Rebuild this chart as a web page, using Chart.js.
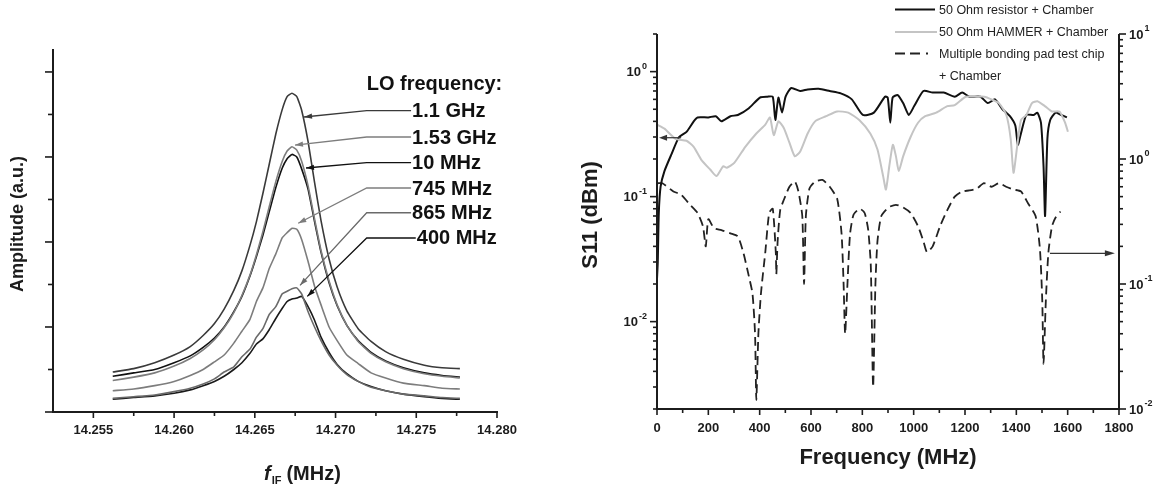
<!DOCTYPE html>
<html>
<head>
<meta charset="utf-8">
<script src="https://cdn.jsdelivr.net/npm/chart.js@4.4.1/dist/chart.umd.min.js"></script>
<style>
  html, body { margin: 0; padding: 0; background: #fff; }
  #wrap { position: relative; width: 1156px; height: 495px; }
  canvas { position: absolute; top: 0; }
  #ifChart { left: 0; }
  #s11Chart { left: 578px; }
</style>
</head>
<body>
<div id="wrap">
  <canvas id="ifChart" width="578" height="495"></canvas>
  <canvas id="s11Chart" width="578" height="495"></canvas>
</div>
<script>
// ---- left panel: IF spectra for each LO frequency ----
const fIF = [14.2562, 14.2575, 14.2588, 14.2600, 14.2610, 14.2618, 14.2625, 14.2631, 14.2637, 14.2642,
  14.2647, 14.2651, 14.2655, 14.2659, 14.2663, 14.2667, 14.2670, 14.2673, 14.2676, 14.2679,
  14.2683, 14.2687, 14.2691, 14.2696, 14.2701, 14.2707, 14.2714, 14.2722, 14.2731, 14.2742,
  14.2755, 14.2766, 14.2777];
const lo1100 = [0.47, 0.51, 0.58, 0.67, 0.77, 0.90, 1.04, 1.21, 1.43, 1.66, 1.96, 2.24, 2.57, 2.92, 3.27, 3.56, 3.71, 3.75, 3.71, 3.55, 3.18, 2.70, 2.25, 1.80, 1.47, 1.19, 0.98, 0.83, 0.71, 0.62, 0.55, 0.52, 0.51];
const lo1530 = [0.37, 0.41, 0.46, 0.54, 0.63, 0.73, 0.85, 0.99, 1.17, 1.37, 1.61, 1.85, 2.12, 2.42, 2.71, 2.95, 3.07, 3.12, 3.08, 2.95, 2.66, 2.27, 1.90, 1.54, 1.26, 1.02, 0.83, 0.69, 0.59, 0.51, 0.45, 0.42, 0.40];
const lo10 = [0.42, 0.46, 0.50, 0.58, 0.66, 0.76, 0.87, 1.00, 1.18, 1.36, 1.60, 1.83, 2.08, 2.36, 2.64, 2.87, 2.98, 3.03, 3.00, 2.86, 2.62, 2.24, 1.88, 1.52, 1.25, 1.02, 0.84, 0.70, 0.60, 0.52, 0.46, 0.43, 0.41];
const lo745 = [0.25, 0.27, 0.31, 0.36, 0.43, 0.50, 0.59, 0.67, 0.81, 0.95, 1.09, 1.30, 1.46, 1.69, 1.86, 2.05, 2.11, 2.16, 2.15, 2.03, 1.77, 1.48, 1.26, 1.00, 0.84, 0.67, 0.57, 0.46, 0.40, 0.34, 0.31, 0.28, 0.27];
const lo865 = [0.16, 0.18, 0.20, 0.24, 0.28, 0.33, 0.39, 0.47, 0.53, 0.65, 0.74, 0.88, 0.98, 1.15, 1.24, 1.39, 1.42, 1.45, 1.46, 1.39, 1.18, 1.00, 0.84, 0.67, 0.55, 0.44, 0.36, 0.29, 0.25, 0.21, 0.19, 0.17, 0.16];
const lo400 = [0.15, 0.17, 0.19, 0.22, 0.26, 0.31, 0.36, 0.42, 0.50, 0.58, 0.69, 0.80, 0.86, 0.97, 1.10, 1.22, 1.30, 1.33, 1.34, 1.36, 1.24, 1.08, 0.88, 0.70, 0.56, 0.45, 0.36, 0.30, 0.25, 0.21, 0.18, 0.16, 0.15];
const loNames = ['1.1 GHz', '1.53 GHz', '10 MHz', '745 MHz', '865 MHz', '400 MHz'];
const ifTicks = [14.255, 14.260, 14.265, 14.270, 14.275, 14.280];
const ampTicks = [0, 1, 2, 3, 4];

// ---- right panel: S11 vs frequency ----
const resMHz = [0, 3, 7, 14, 29, 57, 86, 115, 143, 158, 200, 229, 251, 286, 315, 358, 401, 430, 451, 461, 473, 487, 501, 523, 558, 587, 630, 673, 716, 759, 802, 845, 888, 899, 909, 918, 938, 959, 981, 1002, 1038, 1074, 1117, 1160, 1189, 1217, 1260, 1289, 1317, 1346, 1375, 1396, 1406, 1418, 1439, 1468, 1482, 1496, 1506, 1512, 1521, 1532, 1553, 1575, 1597];
const resS11 = [0.022, 0.03, 0.074, 0.12, 0.16, 0.22, 0.30, 0.33, 0.40, 0.43, 0.43, 0.44, 0.40, 0.44, 0.45, 0.51, 0.62, 0.63, 0.63, 0.41, 0.62, 0.47, 0.63, 0.74, 0.70, 0.72, 0.73, 0.70, 0.67, 0.60, 0.45, 0.47, 0.63, 0.62, 0.39, 0.62, 0.65, 0.56, 0.45, 0.53, 0.70, 0.68, 0.68, 0.63, 0.68, 0.63, 0.63, 0.56, 0.60, 0.50, 0.44, 0.37, 0.26, 0.32, 0.45, 0.45, 0.47, 0.39, 0.175, 0.07, 0.29, 0.41, 0.47, 0.45, 0.43];
const hamMHz = [0, 29, 72, 115, 143, 172, 208, 232, 258, 272, 301, 344, 387, 422, 440, 455, 473, 494, 516, 537, 558, 587, 616, 659, 702, 745, 788, 831, 859, 881, 892, 905, 919, 931, 942, 959, 988, 1017, 1045, 1088, 1131, 1160, 1203, 1246, 1275, 1303, 1332, 1361, 1378, 1389, 1403, 1418, 1439, 1461, 1482, 1511, 1539, 1568, 1590, 1601];
const hamS11 = [0.377, 0.35, 0.29, 0.28, 0.25, 0.198, 0.164, 0.146, 0.175, 0.17, 0.186, 0.25, 0.32, 0.377, 0.43, 0.31, 0.40, 0.354, 0.27, 0.21, 0.23, 0.32, 0.40, 0.44, 0.48, 0.47, 0.41, 0.32, 0.238, 0.146, 0.114, 0.175, 0.26, 0.21, 0.16, 0.21, 0.30, 0.39, 0.44, 0.47, 0.53, 0.54, 0.63, 0.63, 0.63, 0.60, 0.56, 0.45, 0.29, 0.155, 0.25, 0.41, 0.45, 0.56, 0.58, 0.53, 0.48, 0.48, 0.39, 0.33];
const chipMHz = [3, 21, 64, 93, 129, 158, 179, 190, 200, 222, 251, 286, 315, 337, 358, 372, 382, 387, 395, 405, 422, 437, 451, 463, 465, 470, 480, 494, 516, 537, 551, 566, 573, 580, 594, 616, 645, 673, 702, 719, 727, 733, 742, 752, 766, 790, 809, 823, 833, 842, 851, 859, 874, 902, 931, 959, 988, 1017, 1038, 1052, 1074, 1103, 1131, 1160, 1189, 1217, 1246, 1274, 1303, 1332, 1360, 1389, 1418, 1446, 1475, 1492, 1501, 1506, 1515, 1525, 1539, 1553, 1572];
const chipS11 = [0.64, 0.64, 0.55, 0.52, 0.43, 0.37, 0.29, 0.20, 0.33, 0.28, 0.27, 0.254, 0.24, 0.176, 0.115, 0.084, 0.040, 0.0118, 0.040, 0.084, 0.18, 0.37, 0.40, 0.176, 0.12, 0.22, 0.39, 0.47, 0.60, 0.66, 0.55, 0.35, 0.10, 0.35, 0.58, 0.66, 0.68, 0.60, 0.48, 0.254, 0.10, 0.04, 0.10, 0.25, 0.36, 0.40, 0.37, 0.27, 0.14, 0.015, 0.10, 0.22, 0.35, 0.41, 0.43, 0.41, 0.37, 0.29, 0.22, 0.18, 0.20, 0.29, 0.39, 0.50, 0.55, 0.56, 0.58, 0.64, 0.60, 0.64, 0.60, 0.57, 0.55, 0.44, 0.35, 0.19, 0.074, 0.023, 0.074, 0.18, 0.29, 0.34, 0.38];
const seriesNames = ['50 Ohm resistor + Chamber', '50 Ohm HAMMER + Chamber', 'Multiple bonding pad test chip', '+ Chamber'];
const freqTicks = [0, 200, 400, 600, 800, 1000, 1200, 1400, 1600, 1800];
const leftDecades = [0.01, 0.1, 1];
const rightDecades = [0.01, 0.1, 1, 10];

const FONT = '"Liberation Sans", Arial, sans-serif';
const AXIS = '#1c1c1c';

function seg(ctx, x1, y1, x2, y2) {
  ctx.beginPath();
  ctx.moveTo(x1, y1);
  ctx.lineTo(x2, y2);
  ctx.stroke();
}

function arrowHead(ctx, tx, ty, fx, fy, len, half) {
  const a = Math.atan2(ty - fy, tx - fx);
  const bx = tx - len * Math.cos(a), by = ty - len * Math.sin(a);
  ctx.beginPath();
  ctx.moveTo(tx, ty);
  ctx.lineTo(bx + half * Math.sin(a), by - half * Math.cos(a));
  ctx.lineTo(bx - half * Math.sin(a), by + half * Math.cos(a));
  ctx.closePath();
  ctx.fill();
}

// "10" with a raised exponent
function powLabel(ctx, exp, x, y, align) {
  ctx.font = 'bold 13px ' + FONT;
  const wb = ctx.measureText('10').width;
  ctx.font = 'bold 9px ' + FONT;
  const we = ctx.measureText(exp).width;
  const x0 = align === 'right' ? x - wb - we - 1 : x;
  ctx.textAlign = 'left';
  ctx.textBaseline = 'middle';
  ctx.font = 'bold 13px ' + FONT;
  ctx.fillText('10', x0, y + 1);
  ctx.font = 'bold 9px ' + FONT;
  ctx.fillText(exp, x0 + wb + 1, y - 5);
}

// minor positions of a log axis between lo and hi
function logMinors(lo, hi) {
  const out = [];
  for (let d = -3; d <= 1; d++) {
    for (let k = 2; k <= 9; k++) {
      const v = k * Math.pow(10, d);
      if (v >= lo * 0.999 && v <= hi * 1.001) out.push(v);
    }
  }
  return out;
}

// arrows from the labels to the curves, in data units
const loArrows = [
  { tip: [14.26805, 3.47], row: 3.545, color: '#3a3a3a' },
  { tip: [14.26749, 3.14], row: 3.235, color: '#7d7d7d' },
  { tip: [14.26817, 2.87], row: 2.933, color: '#111111' },
  { tip: [14.26769, 2.22], row: 2.635, color: '#7d7d7d' },
  { tip: [14.2678, 1.49], row: 2.344, color: '#6a6a6a' },
  { tip: [14.26825, 1.36], row: 2.047, color: '#111111' }
];
const loKneeX = 14.27193;
const loLabelX = [14.27474, 14.27474, 14.27474, 14.27474, 14.27474, 14.27503];

const ifDecor = {
  id: 'ifDecor',
  afterDraw(chart) {
    const { ctx, chartArea: a, scales: { x, y } } = chart;
    ctx.save();
    ctx.strokeStyle = AXIS;
    ctx.fillStyle = AXIS;
    ctx.lineWidth = 2;
    seg(ctx, a.left, a.top, a.left, a.bottom + 1);
    seg(ctx, a.left - 1, a.bottom, a.right + 1, a.bottom);
    ctx.lineWidth = 1.6;
    ifTicks.forEach(v => {
      const px = x.getPixelForValue(v);
      seg(ctx, px, a.bottom, px, a.bottom + 6);
      const m = x.getPixelForValue(v - 0.0025);
      if (m > a.left + 2) seg(ctx, m, a.bottom, m, a.bottom + 4);
    });
    ampTicks.forEach(v => {
      const py = y.getPixelForValue(v);
      seg(ctx, a.left - 8, py, a.left, py);
      if (v + 0.5 <= y.max) {
        const m = y.getPixelForValue(v + 0.5);
        seg(ctx, a.left - 5, m, a.left, m);
      }
    });
    ctx.font = 'bold 13px ' + FONT;
    ctx.textAlign = 'center';
    ctx.textBaseline = 'middle';
    ifTicks.forEach(v => ctx.fillText(v.toFixed(3), x.getPixelForValue(v), a.bottom + 18));

    // axis titles
    ctx.save();
    ctx.translate(18, 224);
    ctx.rotate(-Math.PI / 2);
    ctx.font = 'bold 18px ' + FONT;
    ctx.fillText('Amplitude (a.u.)', 0, 0);
    ctx.restore();
    ctx.textAlign = 'left';
    ctx.font = 'italic bold 20px ' + FONT;
    let tx = 264;
    ctx.fillText('f', tx, 474);
    tx += ctx.measureText('f').width + 1;
    ctx.font = 'bold 11px ' + FONT;
    ctx.fillText('IF', tx, 481);
    tx += ctx.measureText('IF').width + 5;
    ctx.font = 'bold 20px ' + FONT;
    ctx.fillText('(MHz)', tx, 474);

    // LO frequency labels with leader arrows
    ctx.font = 'bold 20px ' + FONT;
    ctx.fillStyle = '#111';
    ctx.fillText('LO frequency:', x.getPixelForValue(loKneeX), y.getPixelForValue(3.847));
    const kx = x.getPixelForValue(loKneeX);
    loArrows.forEach((n, i) => {
      const ry = y.getPixelForValue(n.row);
      const lx = x.getPixelForValue(loLabelX[i]);
      const px = x.getPixelForValue(n.tip[0]);
      const py = y.getPixelForValue(n.tip[1]);
      ctx.strokeStyle = n.color;
      ctx.fillStyle = n.color;
      ctx.lineWidth = 1.3;
      ctx.beginPath();
      ctx.moveTo(lx - 1, ry);
      ctx.lineTo(kx, ry);
      ctx.lineTo(px, py);
      ctx.stroke();
      arrowHead(ctx, px, py, kx, ry, 8, 2.6);
      ctx.fillStyle = '#111';
      ctx.fillText(loNames[i], lx, ry + 1);
    });
    ctx.restore();
  }
};

const s11Decor = {
  id: 's11Decor',
  afterDraw(chart) {
    const { ctx, chartArea: a, scales: { x, y, y2 } } = chart;
    ctx.save();
    ctx.strokeStyle = AXIS;
    ctx.fillStyle = AXIS;
    ctx.lineWidth = 2;
    seg(ctx, a.left, a.top, a.left, a.bottom + 1);
    seg(ctx, a.right, a.top, a.right, a.bottom + 1);
    seg(ctx, a.left - 1, a.bottom, a.right + 1, a.bottom);
    ctx.lineWidth = 1.6;
    freqTicks.forEach(v => {
      const px = x.getPixelForValue(v);
      seg(ctx, px, a.bottom, px, a.bottom + 6);
      if (v < 1800) {
        const m = x.getPixelForValue(v + 100);
        seg(ctx, m, a.bottom, m, a.bottom + 4);
      }
    });
    leftDecades.forEach(v => {
      const py = y.getPixelForValue(v);
      seg(ctx, a.left - 7, py, a.left, py);
    });
    logMinors(0.002, 2).forEach(v => {
      const py = y.getPixelForValue(v);
      seg(ctx, a.left - 4, py, a.left, py);
    });
    rightDecades.forEach(v => {
      const py = y2.getPixelForValue(v);
      seg(ctx, a.right, py, a.right + 7, py);
    });
    logMinors(0.01, 10).forEach(v => {
      const py = y2.getPixelForValue(v);
      seg(ctx, a.right, py, a.right + 4, py);
    });

    ctx.font = 'bold 13px ' + FONT;
    ctx.textAlign = 'center';
    ctx.textBaseline = 'middle';
    freqTicks.forEach(v => ctx.fillText(String(v), x.getPixelForValue(v), a.bottom + 19));
    leftDecades.forEach(v => powLabel(ctx, String(Math.round(Math.log10(v))), a.left - 10, y.getPixelForValue(v), 'right'));
    rightDecades.forEach(v => powLabel(ctx, String(Math.round(Math.log10(v))), a.right + 10, y2.getPixelForValue(v), 'left'));

    // axis titles
    ctx.textAlign = 'center';
    ctx.font = 'bold 22px ' + FONT;
    ctx.fillText('Frequency (MHz)', (a.left + a.right) / 2, 458);
    ctx.save();
    ctx.translate(13, 215);
    ctx.rotate(-Math.PI / 2);
    ctx.fillText('S11 (dBm)', 0, 0);
    ctx.restore();

    // axis pointers
    ctx.strokeStyle = '#333';
    ctx.fillStyle = '#333';
    ctx.lineWidth = 1.2;
    let ax = x.getPixelForValue(94), bx = x.getPixelForValue(8), ay = y.getPixelForValue(0.296);
    seg(ctx, ax, ay, bx + 4, ay);
    arrowHead(ctx, bx, ay, ax, ay, 8, 3);
    ax = x.getPixelForValue(1531); bx = x.getPixelForValue(1784); ay = y2.getPixelForValue(0.176);
    seg(ctx, ax, ay, bx - 4, ay);
    arrowHead(ctx, bx, ay, ax, ay, 10, 3);

    // legend
    const lx = 317, tx = 361;
    const rows = [9.5, 32, 53.5, 76];
    ctx.lineWidth = 2.2;
    ctx.strokeStyle = '#111';
    seg(ctx, lx, rows[0], lx + 40, rows[0]);
    ctx.strokeStyle = '#c4c4c4';
    seg(ctx, lx, rows[1], lx + 42, rows[1]);
    ctx.strokeStyle = '#222';
    ctx.lineWidth = 2;
    ctx.setLineDash([10, 5, 10, 6, 2, 100]);
    seg(ctx, lx, rows[2], lx + 34, rows[2]);
    ctx.setLineDash([]);
    ctx.font = '12.5px ' + FONT;
    ctx.textAlign = 'left';
    ctx.fillStyle = '#222';
    seriesNames.forEach((s, i) => ctx.fillText(s, tx, rows[i] + 1));
    ctx.restore();
  }
};

new Chart(document.getElementById('ifChart'), {
  type: 'line',
  data: {
    datasets: [
      { label: loNames[3], data: fIF.map((f, i) => ({ x: f, y: lo745[i] })), borderColor: '#7d7d7d' },
      { label: loNames[4], data: fIF.map((f, i) => ({ x: f, y: lo865[i] })), borderColor: '#6a6a6a' },
      { label: loNames[1], data: fIF.map((f, i) => ({ x: f, y: lo1530[i] })), borderColor: '#7d7d7d' },
      { label: loNames[0], data: fIF.map((f, i) => ({ x: f, y: lo1100[i] })), borderColor: '#3a3a3a' },
      { label: loNames[2], data: fIF.map((f, i) => ({ x: f, y: lo10[i] })), borderColor: '#111111' },
      { label: loNames[5], data: fIF.map((f, i) => ({ x: f, y: lo400[i] })), borderColor: '#1a1a1a' }
    ]
  },
  options: {
    responsive: false,
    animation: false,
    devicePixelRatio: 1,
    layout: { padding: { left: 53, right: 81, top: 49, bottom: 83 } },
    plugins: { legend: { display: false }, tooltip: { enabled: false } },
    elements: { point: { radius: 0 }, line: { borderWidth: 1.6, tension: 0.15 } },
    scales: {
      x: { type: 'linear', min: 14.2525, max: 14.280, display: false },
      y: { type: 'linear', min: 0, max: 4.27, display: false }
    }
  },
  plugins: [ifDecor]
});

new Chart(document.getElementById('s11Chart'), {
  type: 'line',
  data: {
    datasets: [
      { label: seriesNames[1], data: hamMHz.map((f, i) => ({ x: f, y: hamS11[i] })), borderColor: '#c4c4c4', yAxisID: 'y' },
      { label: seriesNames[0], data: resMHz.map((f, i) => ({ x: f, y: resS11[i] })), borderColor: '#111111', yAxisID: 'y' },
      { label: seriesNames[2], data: chipMHz.map((f, i) => ({ x: f, y: chipS11[i] })), borderColor: '#222222', borderDash: [9, 5], borderWidth: 1.8, yAxisID: 'y2' }
    ]
  },
  options: {
    responsive: false,
    animation: false,
    devicePixelRatio: 1,
    layout: { padding: { left: 79, right: 37, top: 34, bottom: 86 } },
    plugins: { legend: { display: false }, tooltip: { enabled: false } },
    elements: { point: { radius: 0 }, line: { borderWidth: 2, tension: 0.2 } },
    scales: {
      x: { type: 'linear', min: 0, max: 1800, display: false },
      y: { type: 'logarithmic', min: 0.002, max: 2, display: false },
      y2: { type: 'logarithmic', position: 'right', min: 0.01, max: 10, display: false }
    }
  },
  plugins: [s11Decor]
});
</script>
</body>
</html>
